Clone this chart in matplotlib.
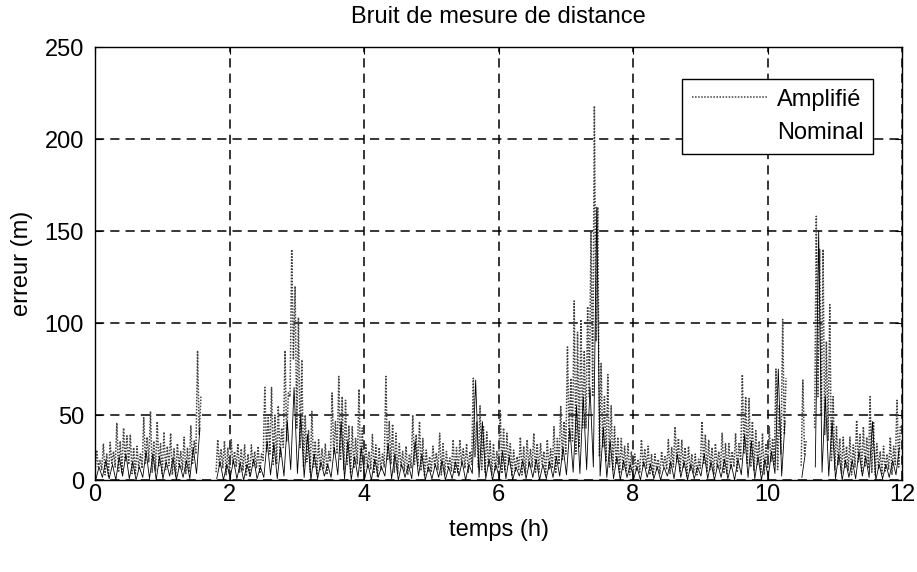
import numpy as np
import matplotlib
matplotlib.use("Agg")
import matplotlib.pyplot as plt

nan = np.nan

# Values, one group of 4 samples per 0.1 h bin (0 -> 12 h)
# Amplified noise: trough, peak, second trough, second peak
amp_lo = [5, 8, 3, 10, 6, 12, 4, 9, 14, 7,
          5, 11, 3, 8, 6, 20, nan, nan, 6, 9,
          4, 10, 7, 3, 9, 15, 20, 12, 25, 60,
          40, 10, 6, 4, 9, 14, 20, 8, 5, 12,
          4, 8, 3, 10, 12, 5, 7, 9, 11, 3,
          6, 8, 4, 7, 5, 9, 12, 10, 6, 4,
          9, 7, 3, 8, 5, 10, 6, 4, 9, 12,
          20, 30, 25, 40, 60, 18, 14, 8, 5, 7,
          3, 6, 9, 4, 5, 8, 10, 6, 3, 5,
          9, 6, 4, 8, 5, 10, 15, 12, 7, 6,
          9, 12, 20, nan, nan, 11, nan, 40, 50, 30,
          8, 5, 7, 10, 6, 9, 4, 5, 8, 12]
amp_peak = [23, 28, 29, 44, 40, 35, 26, 48, 52, 45,
            37, 36, 28, 33, 42, 85, nan, nan, 31, 30,
            31, 28, 27, 27, 26, 65, 65, 55, 85, 140,
            103, 50, 52, 31, 28, 62, 71, 58, 41, 64,
            28, 35, 25, 71, 43, 28, 26, 50, 45, 23,
            26, 36, 22, 31, 31, 28, 70, 55, 37, 28,
            53, 36, 23, 33, 31, 36, 28, 31, 41, 55,
            87, 112, 102, 109, 218, 78, 72, 41, 32, 28,
            20, 31, 26, 20, 22, 31, 41, 31, 26, 20,
            45, 31, 28, 36, 28, 36, 72, 59, 38, 36,
            41, 75, 102, nan, nan, 69, nan, 158, 140, 110,
            41, 33, 33, 46, 41, 60, 28, 26, 33, 58]
amp_lo2 = [10, 4, 12, 6, 15, 5, 9, 13, 6, 11,
           8, 4, 10, 5, 12, 35, nan, nan, 10, 4,
           12, 6, 3, 11, 5, 22, 12, 18, 30, 80,
           25, 14, 10, 8, 4, 20, 15, 12, 9, 6,
           10, 5, 8, 15, 6, 10, 4, 12, 7, 6,
           10, 4, 9, 5, 12, 6, 18, 8, 10, 7,
           5, 12, 7, 4, 10, 6, 12, 8, 5, 15,
           30, 20, 40, 60, 90, 25, 10, 12, 8, 4,
           7, 10, 4, 8, 10, 5, 14, 9, 7, 4,
           12, 8, 10, 5, 9, 6, 20, 10, 12, 4,
           14, 8, 35, nan, nan, 20, nan, 60, 35, 15,
           12, 9, 4, 14, 10, 6, 9, 7, 4, 10]
amp_hi2 = [15, 20, 22, 30, 34, 25, 20, 33, 30, 28,
           26, 24, 22, 25, 30, 60, nan, nan, 24, 25,
           22, 24, 20, 22, 20, 48, 50, 40, 62, 120,
           80, 38, 30, 24, 22, 45, 60, 42, 32, 40,
           22, 27, 20, 45, 36, 22, 20, 35, 32, 18,
           21, 28, 17, 25, 24, 22, 45, 42, 30, 22,
           40, 28, 18, 26, 24, 28, 22, 24, 32, 45,
           70, 95, 85, 150, 163, 60, 55, 33, 26, 22,
           16, 24, 20, 16, 18, 25, 32, 25, 20, 16,
           35, 25, 22, 28, 22, 28, 60, 45, 30, 28,
           32, 55, 70, nan, nan, 30, nan, 140, 90, 60,
           32, 26, 27, 35, 33, 45, 22, 20, 26, 42]

# Nominal noise: trough, peak
nom_lo = [0, 2, 1, 0, 3, 1, 0, 2, 1, 0,
          1, 3, 0, 2, 1, 5, nan, nan, 1, 0,
          2, 1, 0, 3, 1, 2, 4, 1, 3, 8,
          5, 2, 0, 1, 3, 2, 4, 1, 0, 2,
          1, 0, 2, 3, 1, 0, 2, 1, 3, 0,
          1, 2, 0, 1, 3, 0, 5, 2, 1, 0,
          2, 1, 0, 3, 1, 2, 0, 1, 2, 3,
          4, 6, 5, 8, 10, 3, 2, 1, 0, 2,
          1, 0, 2, 1, 0, 3, 1, 2, 0, 1,
          3, 1, 0, 2, 1, 0, 4, 2, 1, 0,
          2, 5, 3, nan, nan, 2, nan, 10, 6, 3,
          1, 0, 2, 1, 3, 2, 0, 1, 2, 4]
nom_hi = [10, 15, 12, 18, 20, 14, 10, 22, 20, 18,
          14, 17, 12, 15, 25, 40, nan, nan, 14, 12,
          15, 13, 12, 16, 10, 30, 28, 25, 45, 65,
          50, 35, 20, 14, 12, 25, 45, 30, 18, 25,
          12, 16, 10, 28, 20, 12, 12, 30, 20, 10,
          12, 15, 10, 14, 14, 12, 69, 45, 16, 12,
          22, 18, 10, 15, 14, 16, 12, 14, 18, 25,
          40, 55, 60, 65, 163, 40, 30, 18, 15, 12,
          10, 14, 12, 10, 10, 14, 20, 14, 12, 10,
          20, 14, 12, 16, 12, 16, 35, 30, 18, 16,
          22, 75, 45, nan, nan, 20, nan, 150, 60, 45,
          20, 15, 15, 22, 18, 45, 12, 12, 15, 25]

bin_start = np.arange(len(amp_peak)) * 0.1

# interleave the samples inside each bin
amp_t = (bin_start[:, None] + np.array([0.0, 0.025, 0.05, 0.075])).ravel()
amp_y = np.column_stack([amp_lo, amp_peak, amp_lo2, amp_hi2]).ravel()
nom_t = (bin_start[:, None] + np.array([0.01, 0.06])).ravel()
nom_y = np.column_stack([nom_lo, nom_hi]).ravel()


# the scanned axis has a shorter 0-50 interval than the others
def fwd(v):
    v = np.asarray(v, dtype=float)
    return np.where(v <= 50, v * 65 / 50, 65 + (v - 50) * 92 / 50)


def inv(p):
    p = np.asarray(p, dtype=float)
    return np.where(p <= 65, p * 50 / 65, 50 + (p - 65) * 50 / 92)


plt.rcParams['font.family'] = ['Liberation Sans', 'DejaVu Sans']
fs = 17

fig = plt.figure(figsize=(9.17, 5.72), dpi=100)
ax = fig.add_axes([0.1036, 0.1608, 0.8801, 0.757])

ax.plot(amp_t, amp_y, color='0.25', linestyle=(0, (1, 1)), linewidth=1.1, label='Amplifié')
ax.plot(nom_t, nom_y, color='black', linewidth=0.6, label='Nominal')

ax.set_yscale('function', functions=(fwd, inv))
ax.set_xlim(0, 12)
ax.set_ylim(0, 250)
ax.set_xticks(np.arange(0, 13, 2))
ax.set_yticks(np.arange(0, 251, 50))
ax.minorticks_off()
ax.tick_params(direction='in', length=5, top=True, right=True, labelsize=fs)
ax.tick_params(axis='x', pad=3)
ax.tick_params(axis='y', pad=8)
ax.grid(True, color='black', linestyle=(0, (6, 4)), linewidth=1.1)
for s in ax.spines.values():
    s.set_linewidth(1.0)

ax.set_xlabel('temps (h)', fontsize=fs, labelpad=9)
ax.set_ylabel('erreur (m)', fontsize=fs, labelpad=8)
ax.set_title('Bruit de mesure de distance', fontsize=fs, pad=17)

leg = ax.legend(loc='upper right', bbox_to_anchor=(0.964, 0.926), borderaxespad=0,
                fontsize=fs, handlelength=3.2, handletextpad=0.4, labelspacing=0.5,
                fancybox=False, edgecolor='black', framealpha=1)
leg.get_frame().set_linewidth(1.0)
leg.get_lines()[1].set_visible(False)

fig.savefig('out.png', dpi=100)
